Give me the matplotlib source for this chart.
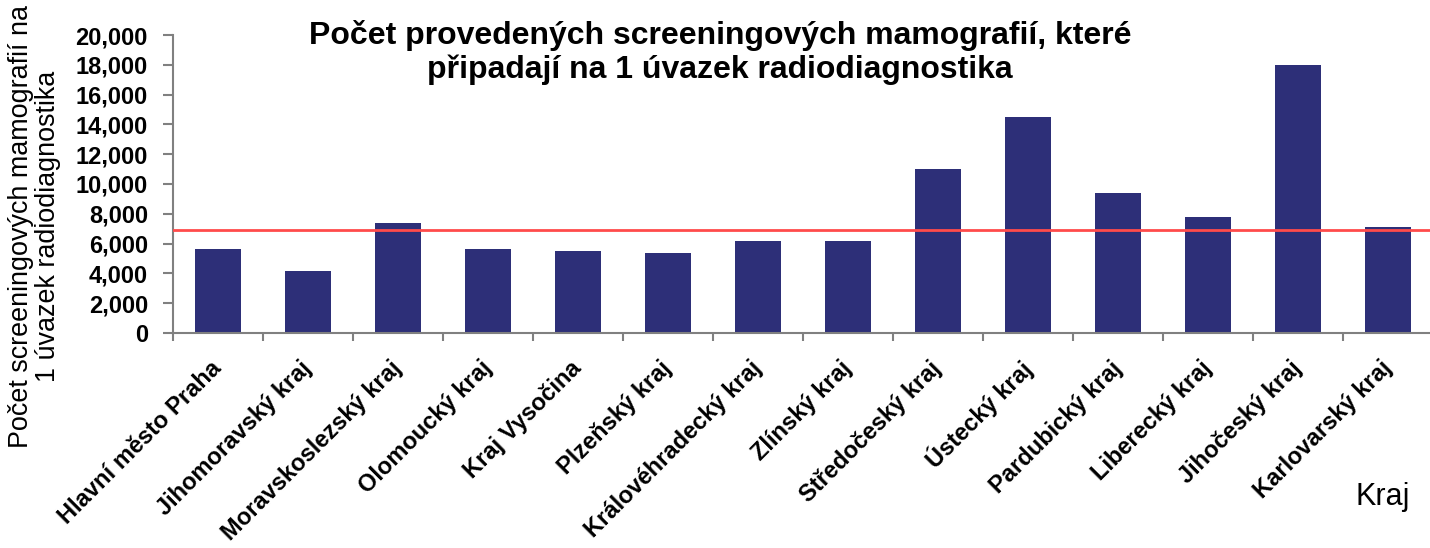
import matplotlib
matplotlib.use("Agg")
import matplotlib.pyplot as plt
from matplotlib.ticker import FuncFormatter, FixedLocator
import numpy as np

plt.rcParams['font.family'] = ['Liberation Sans', 'DejaVu Sans']

categories = ["Hlavní město Praha", "Jihomoravský kraj", "Moravskoslezský kraj",
              "Olomoucký kraj", "Kraj Vysočina", "Plzeňský kraj",
              "Královéhradecký kraj", "Zlínský kraj", "Středočeský kraj",
              "Ústecký kraj", "Pardubický kraj", "Liberecký kraj",
              "Jihočeský kraj", "Karlovarský kraj"]
values = [5640, 4160, 7380, 5640, 5500, 5370, 6170, 6170, 11000, 14500,
          9400, 7790, 17990, 7110]
reference_value = 6910
y_ticks = list(range(0, 20001, 2000))

title = "Počet provedených screeningových mamografií, které\npřipadají na 1 úvazek radiodiagnostika"
ylabel = "Počet screeningových mamografií na\n1 úvazek radiodiagnostika"
xlabel = "Kraj"

W, H = 1430, 548
fig = plt.figure(figsize=(W / 100, H / 100), dpi=100)
left, right, top, bottom = 173, 1433, 35, 333
ax = fig.add_axes([left / W, 1 - bottom / H, (right - left) / W, (bottom - top) / H])

x = np.arange(len(categories))
ax.bar(x, values, width=0.51, color='#2D2F78', zorder=2)
ax.axhline(reference_value, color='#FF4B4B', lw=2.0, zorder=3)

ax.set_xlim(-0.5, len(categories) - 0.5)
ax.set_ylim(0, 20000)
ax.set_yticks(y_ticks)
ax.yaxis.set_major_formatter(FuncFormatter(lambda v, p: f"{int(v):,}"))

ax.set_xticks(x)
ax.set_xticklabels(categories, rotation=45, ha='right', va='center',
                   rotation_mode='anchor', fontsize=17, fontweight='bold')
ax.xaxis.set_minor_locator(FixedLocator(np.arange(-0.5, len(categories), 1.0)))
ax.tick_params(axis='x', which='major', length=0, pad=23)
ax.tick_params(axis='x', which='minor', length=6, width=1.5, color='#808080')
ax.tick_params(axis='y', length=7, width=1.5, color='#808080', labelsize=17, pad=11)
for lbl in ax.get_yticklabels():
    lbl.set_fontweight('bold')

for s in ['top', 'right']:
    ax.spines[s].set_visible(False)
for s in ['left', 'bottom']:
    ax.spines[s].set_color('#808080')
    ax.spines[s].set_linewidth(1.5)

fig.text(720 / W, 1 - 20 / H, title, ha='center', va='top', fontsize=23,
         fontweight='bold', linespacing=1.15)
fig.text(35 / W, 1 - 226 / H, ylabel, rotation=90, ha='center', va='center',
         fontsize=19.4, multialignment='center', linespacing=1.05)
fig.text(1355 / W, 1 - 505 / H, xlabel, ha='left', va='baseline', fontsize=22)

fig.savefig("out.png", dpi=100)
